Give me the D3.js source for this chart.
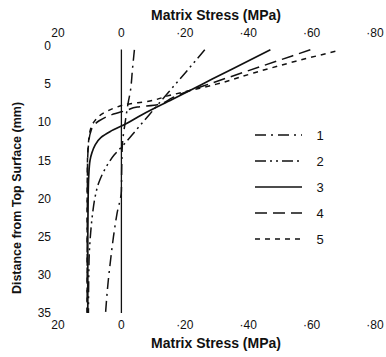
<!DOCTYPE html>
<html>
<head>
<meta charset="utf-8">
<script src="https://cdn.jsdelivr.net/npm/d3@7"></script>
<style>
  body { margin: 0; background: #fff; }
  text { font-family: "Liberation Sans", Arial, sans-serif; fill: #111; }
</style>
</head>
<body>
<svg id="chart" width="386" height="357"></svg>
<script>
// series keys + values (depth mm, stress MPa)
const seriesKeys = ["1", "2", "3", "4", "5"];

const depth1  = [0.5, 3, 6, 7.3, 9.7, 13, 16, 19, 22, 25, 28, 31, 35];
const stress1 = [4.1, 3.5, 2.8, 2.2, 1.3, 0.3, 0.1, 0, -1.4, -2.5, -3.4, -4.2, -5];

const depth2  = [0.5, 3, 6, 9, 11, 13, 14.3, 16, 18, 20, 22, 25, 28, 35];
const stress2 = [26.3, 21.2, 15, 8.8, 4.7, 0.6, -2.3, -5, -7.2, -8.4, -9.1, -9.8, -10.2, -10.4];

const depth3  = [0.5, 3, 5, 7, 9, 10.3, 11.2, 12, 13, 14, 15, 17, 20, 25, 30, 35];
const stress3 = [47, 35, 25.5, 16, 6.5, 1, -3.5, -6.5, -8.3, -9.3, -9.9, -10.3, -10.5, -10.6, -10.6, -10.6];

const depth4  = [0.5, 2, 3.5, 5, 5.8, 6.8, 7.7, 8.0, 8.4, 9.0, 9.8, 11, 13, 16, 35];
const stress4 = [59.6, 48.9, 38.2, 27.5, 21.8, 16, 11.4, 5, 1.9, -3, -7, -9.5, -10.4, -10.7, -10.8];

const depth5  = [0.7, 2, 3.5, 5, 5.8, 6.5, 7.2, 7.7, 8.1, 8.8, 9.7, 11, 12.7, 15, 20, 35];
const stress5 = [67.5, 55, 42, 30, 22, 15, 9, 1, -2, -5.7, -8.2, -9.8, -10.4, -10.7, -10.8, -10.8];

const stressTicks = [-20, 0, 20, 40, 60, 80];
const stressTickLabels = ["20", "0", "\u00b720", "\u00b740", "\u00b760", "\u00b780"];
const depthTicks = [0, 5, 10, 15, 20, 25, 30, 35];

const svg = d3.select("#chart");

const x = d3.scaleLinear().domain([-20, 80]).range([58, 375]);
const y = d3.scaleLinear().domain([0, 35]).range([46, 313]);

const dashes = {
    "1": "11,5,2,5",
    "2": "11,4,2,4,2,4",
    "3": null,
    "4": "12,6",
    "5": "5,5"
};

const allDepth = [depth1, depth2, depth3, depth4, depth5];
const allStress = [stress1, stress2, stress3, stress4, stress5];
const series = seriesKeys.map((k, i) => ({
    key: k,
    points: allDepth[i].map((d, j) => ({ d: d, v: allStress[i][j] }))
}));

// zero stress reference line
svg.append("line")
    .attr("x1", x(0)).attr("x2", x(0))
    .attr("y1", y(0.45)).attr("y2", y(35))
    .attr("stroke", "#111")
    .attr("stroke-width", 1.3);

const line = d3.line()
    .x(p => x(p.v))
    .y(p => y(p.d))
    .curve(d3.curveMonotoneY);

svg.append("g").selectAll("path")
    .data(series)
    .enter()
    .append("path")
    .attr("d", s => line(s.points))
    .attr("fill", "none")
    .attr("stroke", "#111")
    .attr("stroke-width", s => s.key === "3" ? 1.7 : 1.5)
    .attr("stroke-dasharray", s => dashes[s.key]);

// top + bottom stress tick labels
[33, 325].forEach(ty => {
    svg.append("g").selectAll("text")
        .data(stressTicks)
        .enter()
        .append("text")
        .attr("x", d => x(d))
        .attr("y", ty)
        .attr("dy", "0.35em")
        .attr("text-anchor", "middle")
        .attr("font-size", 12)
        .text((d, i) => stressTickLabels[i]);
});

// depth tick labels
svg.append("g").selectAll("text")
    .data(depthTicks)
    .enter()
    .append("text")
    .attr("x", 51)
    .attr("y", d => y(d))
    .attr("dy", "0.35em")
    .attr("text-anchor", "end")
    .attr("font-size", 12)
    .text(d => d);

// axis titles
svg.append("text")
    .attr("x", 216).attr("y", 15).attr("dy", "0.35em")
    .attr("text-anchor", "middle")
    .attr("font-size", 14).attr("font-weight", "bold")
    .text("Matrix Stress (MPa)");

svg.append("text")
    .attr("x", 216).attr("y", 343).attr("dy", "0.35em")
    .attr("text-anchor", "middle")
    .attr("font-size", 14).attr("font-weight", "bold")
    .text("Matrix Stress (MPa)");

svg.append("text")
    .attr("transform", "translate(17,198) rotate(-90)")
    .attr("dy", "0.35em")
    .attr("text-anchor", "middle")
    .attr("font-size", 12.5).attr("font-weight", "bold")
    .text("Distance from Top Surface (mm)");

// legend
const legend = svg.append("g").attr("transform", "translate(255,135)");
const rows = legend.selectAll("g")
    .data(seriesKeys)
    .enter()
    .append("g")
    .attr("transform", (d, i) => `translate(0,${i * 26})`);

rows.append("line")
    .attr("x1", 0).attr("x2", 47)
    .attr("stroke", "#111")
    .attr("stroke-width", d => d === "3" ? 1.7 : 1.6)
    .attr("stroke-dasharray", d => dashes[d]);

rows.append("text")
    .attr("x", 65)
    .attr("dy", "0.35em")
    .attr("text-anchor", "middle")
    .attr("font-family", "Liberation Serif, serif")
    .attr("font-size", 13)
    .text(d => d);
</script>
</body>
</html>
